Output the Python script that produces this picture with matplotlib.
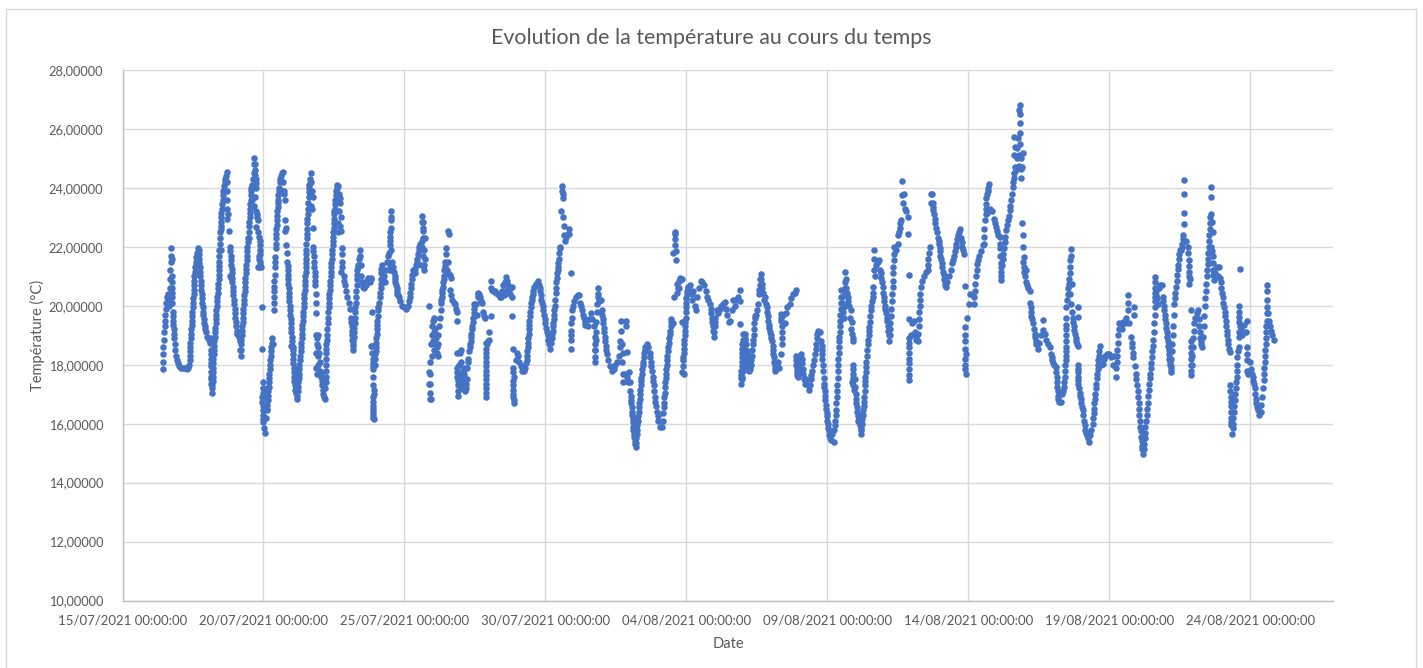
import datetime as dt
import matplotlib
matplotlib.use("Agg")
import matplotlib.pyplot as plt
import matplotlib.dates as mdates
from matplotlib.lines import Line2D

# readings: (days after 15/07/2021 00:00, temperature in deg C)
part_1 = [
(1.43,17.85),(1.43,18.1),(1.44,18.35),(1.45,18.6),(1.47,18.85),(1.48,19.1),(1.49,19.3),(1.50,19.5),(1.52,19.7),(1.54,19.9),
(1.56,20.1),(1.58,20.3),(1.60,20.4),(1.62,20.2),(1.64,20.0),(1.66,20.3),(1.67,20.6),(1.70,20.9),(1.70,21.2),(1.71,21.5),
(1.72,21.7),(1.73,21.95),(1.74,21.6),(1.74,21.0),(1.76,20.6),(1.76,20.3),(1.77,20.1),(1.78,19.8),(1.80,19.5),(1.81,19.2),
(1.83,18.9),(1.85,18.7),(1.87,18.5),(1.90,18.3),(1.93,18.15),(1.97,18.05),(2.02,17.95),(2.08,17.9),(2.14,17.9),(2.20,17.9),
(2.27,17.85),(2.33,17.9),(2.37,18.0),(2.39,18.3),(2.40,18.6),(2.42,18.9),(2.44,19.2),(2.46,19.5),(2.48,19.8),(2.50,20.1),
(2.52,20.4),(2.53,20.7),(2.55,21.0),(2.58,21.3),(2.60,21.5),(2.63,21.8),(2.67,21.95),(2.70,21.9),(2.72,21.6),(2.74,21.3),
(2.76,21.0),(2.78,20.7),(2.81,20.4),(2.83,20.1),(2.85,19.8),(2.88,19.55),(2.91,19.3),(2.95,19.1),(3.0,18.95),(3.05,18.85),
(3.10,18.75),(3.13,18.9),(3.15,18.5),(3.14,18.2),(3.14,17.95),(3.15,17.6),(3.15,17.35),(3.17,17.05),(3.19,17.3),(3.20,17.6),
(3.21,17.9),(3.22,18.2),(3.24,18.5),(3.26,18.8),(3.28,19.1),(3.30,19.4),(3.32,19.7),(3.34,20.0),(3.36,20.3),(3.39,20.6),
(3.41,20.9),(3.42,21.2),(3.44,21.5),(3.44,21.9),(3.47,22.3),(3.48,22.7),(3.50,23.0),(3.52,23.3),(3.55,23.6),(3.58,23.9),
(3.62,24.2),(3.66,24.4),(3.69,24.55),(3.71,24.2),(3.69,23.9),(3.72,23.6),(3.70,23.3),(3.74,23.1),(3.69,22.95),(3.48,22.6),
(3.77,22.55),(3.48,21.9),(3.81,22.0),(3.84,21.7),(3.86,21.4),(3.88,21.1),(3.90,20.8),(3.92,20.5),(3.95,20.2),(3.98,19.9),
(4.0,19.6),(4.03,19.3),(4.07,19.05),(4.12,18.95),(3.80,21.0),(3.84,20.95),(4.16,19.0),(4.17,18.8),(4.15,18.5),(4.19,18.3),
(4.21,18.7),(4.23,19.0),(4.25,19.3),(4.27,19.6),(4.29,19.9),(4.31,20.2),(4.33,20.5),(4.35,20.8),(4.37,21.1),(4.39,21.4),
(4.41,21.7),(4.43,22.0),(4.46,22.3),(4.48,22.3),(4.49,22.7),(4.51,23.0),(4.53,23.3),(4.54,23.6),(4.56,23.9),(4.58,24.1),
(4.60,23.6),(4.63,24.3),(4.68,24.5),(4.67,24.8),(4.68,25.0),(4.70,24.6),(4.72,24.3),(4.74,24.0),(4.70,23.7),(4.67,23.4),
(4.75,23.2),(4.78,23.0),(4.75,22.66),(4.86,22.2),(4.88,21.9),(4.85,21.6),(4.88,21.4),(4.92,21.3),(4.80,21.3),(4.83,21.7),
(4.83,21.3),(4.95,19.95),(4.95,18.55),(4.97,17.4),(4.97,17.2),(4.96,16.9),(4.97,16.6),(4.98,16.3),(5.0,16.05),(5.03,15.85),
(5.06,15.7),(5.13,17.2),(5.10,16.9),(5.14,16.45),
(2.38,18.15),(2.39,18.45),(2.41,18.75),(2.43,19.05),(2.45,19.35),(2.47,19.65),(2.49,19.95),(2.51,20.25),(2.525,20.55),(2.54,20.85),
(2.565,21.15),(2.59,21.4),(2.615,21.65),(2.71,21.75),(2.73,21.45),(2.75,21.15),(2.77,20.85),(2.795,20.55),(2.82,20.25),(2.84,19.95),
(2.865,19.7),(2.895,19.4),(2.93,19.2),(3.145,18.35),(3.14,18.05),(3.145,17.75),(3.15,17.5),(3.16,17.2),(3.195,17.45),(3.205,17.75),
(3.215,18.05),(3.23,18.35),(3.25,18.65),(3.27,18.95),(3.29,19.25),(3.31,19.55),(3.33,19.85),(3.35,20.15),(3.375,20.45),(3.40,20.75),
(3.415,21.05),(3.43,21.35),(3.44,21.7),(3.455,22.1),(3.475,22.5),(3.49,22.85),(3.51,23.15),(3.535,23.45),(3.565,23.75),(3.60,24.05),
(3.64,24.3),(3.825,21.85),(3.85,21.55),(3.87,21.25),(3.89,20.95),(3.91,20.65),(3.935,20.35),(3.965,20.05),(3.99,19.75),(4.015,19.45),
(4.05,19.15),(4.20,18.5),(4.22,18.85),(4.24,19.15),(4.26,19.45),(4.28,19.75),(4.30,20.05),(4.32,20.35),(4.34,20.65),(4.36,20.95),
(4.38,21.25),(4.40,21.55),(4.42,21.85),(4.445,22.15),(4.485,22.5),(4.50,22.85),(4.52,23.15),(4.535,23.45),(4.55,23.75),(4.57,24.0),
(4.69,24.8),(4.71,24.45),(4.73,24.15),(4.76,23.1),(4.80,22.9),(4.82,22.5),(4.84,22.35),(4.87,22.05),(4.865,21.75),(4.865,21.5),
(4.97,17.05),(4.965,16.75),(4.975,16.45),(4.99,16.15),(1.75,20.8),(1.755,20.45),(1.79,19.65),(1.805,19.35),(1.82,19.05),
]
part_2 = [
(5.10,16.2),(5.13,16.5),(5.15,16.8),(5.17,17.1),(5.19,17.4),(5.21,17.7),(5.23,18.0),(5.25,18.3),(5.28,18.6),(5.31,18.9),
(5.32,18.7),(5.37,19.85),(5.38,20.1),(5.37,20.5),(5.39,20.85),(5.41,21.3),(5.42,21.65),(5.44,21.95),(5.44,22.3),(5.46,22.6),
(5.47,22.9),(5.49,23.2),(5.51,23.5),(5.53,23.75),(5.56,24.0),(5.58,24.2),(5.62,24.4),(5.66,24.5),(5.70,24.55),(5.70,24.2),
(5.66,23.9),(5.71,23.8),(5.74,23.9),(5.76,23.6),(5.75,22.9),(5.78,22.55),(5.79,22.65),(5.81,22.05),(5.83,21.8),(5.85,21.5),
(5.86,21.2),(5.87,20.9),(5.89,20.6),(5.91,20.3),(5.93,20.0),(5.95,19.7),(5.97,19.4),(5.99,19.1),(6.0,18.8),(6.03,18.5),
(6.05,18.2),(6.07,17.9),(6.08,17.6),(6.11,17.3),(6.14,17.05),(6.18,16.85),(6.05,18.6),(5.97,18.65),(6.22,17.1),(6.24,17.4),
(6.26,17.7),(6.27,18.0),(6.30,18.3),(6.33,18.6),(6.35,18.9),(6.37,19.2),(6.39,19.5),(6.41,19.8),(6.43,20.1),(6.45,20.4),
(6.47,20.7),(6.49,21.0),(6.50,21.3),(6.51,21.6),(6.52,21.9),(6.53,22.3),(6.55,22.6),(6.56,22.95),(6.58,23.3),(6.60,23.7),
(6.62,24.0),(6.65,24.3),(6.67,24.5),(6.62,24.1),(6.64,23.8),(6.68,24.2),(6.71,23.9),(6.75,23.7),(6.70,23.4),(6.73,23.3),
(6.76,22.65),(6.76,22.0),(6.78,21.7),(6.80,21.3),(6.82,21.0),(6.84,20.7),(6.85,20.1),(6.85,19.75),(6.87,19.0),(6.90,18.7),
(6.90,18.9),(6.93,19.0),(6.95,18.6),(6.88,18.4),(6.93,18.3),(6.97,18.4),(6.88,17.9),(6.90,17.7),(6.93,18.0),(7.0,18.1),
(7.0,17.8),(7.05,17.6),(7.08,17.3),(7.12,17.0),(7.15,16.9),(7.18,16.85),(7.19,17.2),(7.21,17.6),(7.22,18.0),(7.22,18.4),
(7.23,18.7),(7.26,19.0),(7.28,19.4),(7.30,19.8),(7.32,20.1),(7.34,20.4),(7.36,20.7),(7.38,21.0),(7.40,21.3),(7.42,21.6),
(7.44,21.9),(7.46,22.2),(7.48,22.5),(7.49,22.8),(7.50,23.1),(7.53,23.3),(7.55,23.6),(7.58,23.9),(7.60,24.1),(7.65,24.05),
(7.68,23.8),(7.72,23.5),(7.68,23.2),(7.74,23.0),(7.72,22.7),(7.66,22.5),(7.64,22.8),(7.75,22.55),(7.78,21.95),(7.78,21.5),
(7.76,21.15),(7.84,21.0),(7.88,20.7),(7.92,20.5),(7.97,20.3),(8.02,20.1),(8.06,19.9),(8.10,19.6),(8.13,19.3),(8.15,19.0),
(8.16,18.7),(8.17,18.5),(8.19,18.8),(8.21,19.1),(8.23,19.4),(8.25,19.8),(8.27,20.1),(8.29,20.5),(8.31,20.9),(8.33,21.2),
(8.36,21.4),(8.38,21.6),(8.41,21.9),(8.44,21.7),(8.46,21.4),(8.45,21.0),(8.48,20.8),(8.52,20.65),(8.55,20.6),(8.59,20.8),
(8.63,20.7),(8.67,20.85),(8.72,20.95),(8.77,20.8),(8.80,20.9),(8.82,20.95),(8.85,19.8),(8.82,18.65),(8.85,18.65),(8.88,18.2),
(8.90,17.95),(8.87,17.85),(8.90,17.3),(8.93,17.0),(8.87,16.9),(8.88,16.6),(8.89,16.4),(8.90,16.2),(8.92,16.15),(8.95,18.0),
(8.97,18.35),(8.99,18.6),(9.0,18.9),(9.02,19.2),(9.04,19.5),(9.06,19.85),(9.13,20.3),(9.15,20.6),(9.16,20.9),(9.17,21.1),
(9.19,21.4),(9.20,21.2),(9.23,20.9),(9.25,21.2),(9.28,21.0),(9.30,20.8),(9.33,21.2),(9.38,21.5),(9.42,21.7),(9.45,21.8),
(9.47,21.4),(9.50,21.2),(9.53,21.9),(9.50,22.2),(9.50,22.5),(9.52,22.65),(9.52,23.2),(9.52,23.0),(9.49,22.05),(9.55,21.5),
(9.60,21.3),(9.65,21.0),(9.68,20.8),(9.72,20.6),(9.75,20.4),(9.80,20.3),(9.85,20.15),(9.90,20.0),(9.98,19.95),(10.06,19.9),
(10.14,20.0),(10.18,20.3),(10.22,20.6),(10.26,20.9),(10.30,21.2),(10.36,21.1),(10.40,21.4),(10.45,21.6),(10.50,21.9),(10.55,22.1),
(10.62,22.0),(10.66,21.7),(10.60,21.4),(10.70,21.9),(10.72,21.6),(10.68,21.4),(10.70,21.2),(10.61,23.05),(10.67,22.65),(10.73,22.3),
(10.62,22.85),(10.66,22.85),(10.64,22.55),
(5.14,16.65),(5.16,16.95),(5.18,17.25),(5.20,17.55),(5.22,17.85),(5.24,18.15),(5.265,18.45),(5.295,18.75),(5.375,20.3),(5.38,20.65),
(5.40,21.05),(5.415,21.5),(5.44,22.1),(5.45,22.45),(5.465,22.75),(5.48,23.05),(5.50,23.35),(5.52,23.6),(5.545,23.9),(5.60,24.3),
(5.855,21.35),(5.865,21.05),(5.88,20.75),(5.90,20.45),(5.92,20.15),(5.94,19.85),(5.96,19.55),(5.98,19.25),(5.995,18.95),(6.015,18.65),
(6.04,18.35),(6.06,18.05),(6.075,17.75),(6.095,17.45),(6.125,17.15),(6.20,16.95),(6.23,17.25),(6.25,17.55),(6.265,17.85),(6.285,18.15),
(6.315,18.45),(6.34,18.75),(6.36,19.05),(6.38,19.35),(6.40,19.65),(6.42,19.95),(6.44,20.25),(6.46,20.55),(6.48,20.85),(6.495,21.15),
(6.505,21.45),(6.515,21.75),(6.525,22.1),(6.54,22.45),(6.555,22.8),(6.57,23.1),(6.59,23.5),(6.61,23.85),(6.635,24.15),(6.77,21.85),
(6.79,21.5),(6.81,21.15),(6.83,20.85),(6.845,20.4),(7.10,17.15),(7.065,17.45),(7.025,17.7),(7.20,17.4),(7.215,17.8),(7.22,18.2),
(7.225,18.55),(7.245,18.85),(7.27,19.2),(7.29,19.6),(7.31,19.95),(7.33,20.25),(7.35,20.55),(7.37,20.85),(7.39,21.15),(7.41,21.45),
(7.43,21.75),(7.45,22.05),(7.47,22.35),(7.485,22.65),(7.495,22.95),(7.515,23.2),(7.54,23.45),(7.565,23.75),(7.59,24.0),(7.70,23.65),
(7.78,21.75),(7.77,21.3),(7.86,20.85),(8.115,19.45),(8.14,19.15),(8.155,18.85),(8.18,18.65),(8.20,18.95),(8.22,19.25),(8.24,19.6),
(8.26,19.95),(8.28,20.3),(8.30,20.7),(8.32,21.05),(8.345,21.3),(8.85,18.4),(8.89,18.05),(8.88,17.6),(8.91,17.15),(8.875,16.75),
(8.885,16.5),(8.895,16.3),(8.96,18.2),(8.98,18.45),(8.995,18.75),(9.01,19.05),(9.03,19.35),(9.05,19.65),(9.07,19.95),(9.10,20.1),
(9.14,20.45),(9.155,20.75),(9.18,21.25),(9.51,22.9),(9.50,22.35),(10.16,20.15),(10.20,20.45),(10.24,20.75),(10.28,21.05),(10.33,21.15),
(10.38,21.25),(10.43,21.5),(10.48,21.75),(10.525,22.0),(10.65,22.3),(10.63,22.2),(9.62,21.15),(9.66,20.9),(9.70,20.7),(9.735,20.5),(9.78,20.35),
]
part_3 = [
(10.87,20.0),(10.89,18.1),(10.87,17.75),(10.90,17.7),(10.87,17.35),(10.90,17.35),(10.91,17.05),(10.90,16.85),(10.93,16.85),
(10.95,18.7),(10.97,18.3),(10.97,19.0),(10.99,19.3),(11.0,19.5),(11.03,19.6),(11.06,19.55),(11.05,19.1),(11.02,18.8),(11.05,18.5),
(11.08,18.7),(11.10,19.2),(11.12,18.9),(11.14,18.6),(11.16,18.4),(11.18,18.3),(11.20,18.7),(11.18,19.0),(11.22,19.3),(11.25,19.6),
(11.28,19.85),(11.30,20.1),(11.32,20.3),(11.34,20.55),(11.37,20.8),(11.40,21.0),(11.41,21.2),(11.45,21.5),(11.46,21.75),(11.47,21.95),
(11.56,22.55),(11.57,22.45),(11.53,21.5),(11.52,21.2),(11.55,21.1),(11.60,21.05),(11.65,20.95),(11.63,20.55),(11.66,20.35),(11.70,20.2),
(11.74,20.1),(11.78,20.05),(11.82,19.9),(11.86,19.8),(11.88,19.5),(11.88,18.4),(11.85,17.9),(11.88,17.6),(11.90,17.3),(11.91,16.95),
(11.92,17.7),(11.95,18.0),(11.97,18.4),(12.0,18.5),(12.02,18.1),(12.0,17.7),(11.98,17.4),(12.03,17.5),(12.06,17.8),(12.05,17.2),
(12.09,17.4),(12.10,17.9),(12.13,17.5),(12.16,17.1),(12.18,17.2),(12.20,17.5),(12.20,17.9),(12.24,18.1),(12.27,18.2),(12.30,18.45),
(12.33,18.7),(12.36,18.95),(12.39,19.2),(12.42,19.45),(12.45,19.75),(12.47,20.05),(12.52,20.05),(12.56,19.7),(12.59,20.3),(12.62,20.45),
(12.67,20.3),(12.70,20.15),(12.74,20.1),(12.78,19.8),(12.82,19.65),(12.84,19.6),(13.07,19.65),(12.89,18.75),(12.90,18.4),(12.88,18.1),
(12.89,17.8),(12.90,17.5),(12.88,17.2),(12.90,16.9),(12.93,18.7),(12.96,18.8),(13.0,19.1),(13.0,18.85),(13.08,20.85),(13.06,20.6),
(13.10,20.55),(13.15,20.5),(13.20,20.5),(13.25,20.45),(13.30,20.4),(13.36,20.35),(13.40,20.3),(13.44,20.3),(13.46,20.5),(13.50,20.7),
(13.55,20.8),(13.60,20.97),(13.63,20.85),(13.67,20.7),(13.62,20.55),(13.58,20.4),(13.54,20.35),(13.70,20.55),(13.75,20.4),(13.80,20.3),
(13.83,20.65),(13.82,19.65),(13.85,18.55),(13.85,17.9),(13.87,17.6),(13.86,17.3),(13.86,17.0),(13.87,16.8),(13.87,16.7),(13.95,18.15),
(14.0,18.4),(14.03,18.3),(14.07,18.1),(14.12,17.95),(14.18,17.8),(14.23,17.8),(14.28,17.9),(14.32,18.05),(14.35,18.3),(14.37,18.6),
(14.39,18.9),(14.41,19.2),(14.43,19.5),(14.46,19.8),(14.50,20.1),(14.53,20.3),(14.56,20.5),(14.60,20.65),(14.66,20.75),(14.73,20.85),
(14.78,20.7),(14.82,20.5),(14.85,20.2),(14.90,20.0),(14.95,19.7),(15.0,19.4),(15.05,19.1),(15.1,18.85),(15.16,18.55),(15.22,18.9),
(15.25,19.15),(15.28,19.4),(15.30,19.7),(15.33,20.0),(15.36,20.45),(15.39,20.8),(15.42,21.1),(15.45,21.3),(15.47,21.6),(15.50,21.95),
(15.52,22.0),(15.54,23.2),(15.60,24.08),(15.59,23.9),(15.62,23.8),(15.62,23.65),(15.63,23.0),(15.66,22.7),(15.66,22.4),(15.68,22.2),
(15.72,22.35),(15.85,22.45),(15.85,22.6),(15.80,22.45),(15.90,21.1),(15.90,18.55),(15.91,18.85),(15.92,19.15),(15.92,19.4),(15.95,19.85),
(15.98,20.0),(16.02,20.15),(16.08,20.3),(16.14,20.35),(16.18,20.35),(16.24,20.1),(16.30,19.85),(16.36,19.6),(16.42,19.35),(16.50,19.3),
(16.55,19.55),(16.60,19.75),(16.66,19.55),(16.72,19.3),(16.75,18.95),(16.74,18.7),(16.74,18.25),(16.76,18.5),(16.80,19.1),(16.83,19.8),
(16.85,20.3),(16.85,20.6),(16.87,20.4),(16.90,20.15),(16.97,20.2),(17.0,19.85),(17.03,19.55),(17.07,19.25),(17.10,18.95),(17.14,18.65),
(17.18,18.35),(17.22,18.15),(17.28,17.95),(17.36,17.8),(17.42,17.85),(17.48,18.0),(17.54,18.1),(17.60,18.3),(17.63,18.6),(17.66,18.8),
(17.68,19.15),(17.69,19.5),(17.71,18.7),(17.74,18.4),(17.72,18.1),(17.85,19.5),(17.87,19.3),(17.90,18.43),(17.74,17.7),(17.76,17.4),
(17.82,17.7),(17.88,17.6),(17.92,17.4),(17.97,17.75),(18.0,17.4),(18.01,17.1),(18.04,16.8),(18.06,16.55),(18.08,16.3),(18.10,16.05),
(18.12,15.8),(18.15,15.55),(18.18,15.3),(18.20,15.2),(18.22,15.5),(18.24,15.8),(18.27,16.1),(18.30,16.4),(18.33,16.7),(18.36,17.0),
(18.38,17.3),(18.40,17.55),(18.43,17.85),(18.46,18.1),(18.50,18.4),(18.54,18.6),(18.60,18.7),(18.65,18.6),(18.70,18.4),(18.74,18.1),
(18.78,17.8),(18.82,17.45),(18.85,17.1),(18.90,16.75),(18.95,16.4),(19.0,16.1),(19.05,15.9),(19.12,15.9),(19.18,16.1),(19.16,16.35),
(19.20,16.55),(19.22,16.9),(19.24,17.25),(19.26,17.55),(19.28,17.85),(19.31,18.15),(19.33,18.45),(19.37,18.75),(19.41,19.05),(19.44,19.3),
(19.47,19.55),(19.52,19.4),(19.55,20.3),(19.53,21.8),(19.58,22.45),(19.59,22.25),(19.60,22.5),(19.61,22.05),(19.62,21.85),(19.64,21.55),
(19.67,20.75),(19.66,20.45),(19.70,20.6),(19.72,20.85),(19.75,20.6),(19.78,20.95),(19.85,20.9),(19.85,19.45),(19.90,19.45),(19.86,17.75),
(19.90,17.7),(19.87,18.15),(19.90,18.4),(19.92,18.7),(19.94,19.0),(19.96,19.3),(19.97,19.6),(19.99,19.95),(20.0,20.25),(20.03,20.5),
(20.07,20.65),(20.12,20.7),(20.18,20.4),(20.20,20.2),(20.25,20.5),(20.30,20.0),(20.33,19.85),(20.38,20.3),(20.43,20.6),(20.50,20.85),
(11.43,21.35),(11.31,20.2),(11.335,20.45),(11.355,20.65),(11.385,20.9),(11.87,17.75),(11.89,17.45),(11.905,17.1),(12.11,17.7),(12.15,17.3),
(12.19,17.35),(12.32,18.6),(12.345,18.8),(12.375,19.05),(12.405,19.3),(12.435,19.6),(12.46,19.9),(12.60,20.4),(12.64,20.4),(12.89,18.55),
(12.89,18.25),(12.885,17.95),(12.895,17.65),(12.89,17.35),(12.89,17.05),(13.855,17.75),(13.865,17.45),(13.865,17.15),(13.865,16.9),(14.335,18.15),
(14.36,18.45),(14.38,18.75),(14.40,19.05),(14.42,19.35),(14.445,19.65),(14.48,19.95),(14.515,20.2),(14.545,20.4),(14.80,20.6),(14.835,20.35),
(14.875,20.1),(14.925,19.85),(14.975,19.55),(15.025,19.25),(15.075,19.0),(15.13,18.7),(15.20,18.75),(15.24,19.05),(15.265,19.3),(15.29,19.55),
(15.315,19.85),(15.345,20.2),(15.375,20.6),(15.405,20.95),(15.435,21.2),(15.46,21.45),(15.485,21.8),(15.92,19.0),(15.935,19.6),(16.27,20.0),
(16.33,19.7),(16.39,19.45),(16.745,18.5),(16.755,18.1),(16.78,18.85),(16.81,19.45),(16.84,20.05),(17.015,19.7),(17.05,19.4),(17.085,19.1),
(17.12,18.8),(17.16,18.5),(18.025,16.95),(18.05,16.7),(18.07,16.4),(18.09,16.15),(18.11,15.9),(18.135,15.65),(18.165,15.4),(18.21,15.35),
(18.23,15.65),(18.255,15.95),(18.285,16.25),(18.315,16.55),(18.345,16.85),(18.37,17.15),(18.39,17.45),(18.415,17.7),(18.445,18.0),(18.48,18.25),
(18.52,18.5),(18.72,18.25),(18.76,17.95),(18.80,17.6),(18.835,17.3),(18.875,16.9),(18.925,16.6),(18.975,16.25),(19.21,16.7),(19.23,17.05),
(19.25,17.4),(19.27,17.7),(19.295,18.0),(19.32,18.3),(19.35,18.6),(19.39,18.9),(19.425,19.15),(19.455,19.45),(19.885,17.95),(19.89,18.25),
(19.91,18.55),(19.93,18.85),(19.95,19.15),(19.965,19.45),(19.98,19.8),(19.995,20.1),(20.015,20.4),(20.05,20.6),
]
part_4 = [
(20.56,20.8),(20.62,20.7),(20.68,20.5),(20.73,20.3),(20.78,20.2),(20.84,20.05),(20.88,19.75),(20.91,19.45),(20.94,19.15),(20.97,18.95),
(21.0,19.3),(21.03,19.6),(21.07,19.85),(21.12,19.75),(21.18,19.9),(21.24,20.0),(21.30,20.05),(21.36,20.12),(21.40,19.9),(21.45,19.7),
(21.50,19.45),(21.55,19.5),(21.60,19.85),(21.65,20.18),(21.71,20.0),(21.77,20.2),(21.83,20.3),(21.89,20.52),(21.91,20.15),(21.91,19.37),
(22.0,19.05),(21.98,18.7),(21.97,18.4),(21.96,18.1),(21.95,17.8),(21.94,17.55),(21.95,17.36),(21.98,17.6),(22.02,17.95),(22.05,18.3),
(22.06,18.7),(22.06,19.05),(22.10,18.7),(22.14,18.35),(22.18,18.05),(22.22,17.8),(22.26,17.85),(22.29,18.15),(22.33,18.5),(22.36,18.85),
(22.40,19.2),(22.42,19.6),(22.46,19.7),(22.50,19.85),(22.54,20.07),(22.57,20.4),(22.60,20.7),(22.65,21.08),(22.67,20.75),(22.70,20.45),
(22.74,20.2),(22.80,20.3),(22.83,20.07),(22.86,19.8),(22.89,19.5),(22.94,19.25),(22.99,19.0),(23.04,18.8),(23.07,18.5),(23.10,18.25),
(23.13,18.0),(23.15,17.8),(23.20,17.95),(23.26,18.1),(23.30,17.9),(23.36,18.37),(23.38,18.7),(23.40,19.1),(23.36,19.5),(23.36,19.73),
(23.42,19.7),(23.48,19.4),(23.52,19.75),(23.58,19.95),(23.66,20.07),(23.72,20.25),(23.79,20.4),(23.86,20.42),(23.89,20.52),(23.89,18.3),
(23.90,18.0),(23.92,17.75),(23.95,17.58),(23.98,17.9),(24.02,18.2),(24.07,18.37),(24.10,18.05),(24.14,17.7),(24.19,17.36),(24.25,17.5),
(24.30,17.3),(24.36,17.13),(24.41,17.5),(24.46,17.8),(24.50,18.0),(24.54,18.15),(24.58,18.55),(24.62,18.9),(24.66,19.16),(24.72,19.1),
(24.78,18.82),(24.80,18.5),(24.82,18.2),(24.86,17.8),(24.87,17.36),(24.90,17.1),(24.93,16.8),(24.96,16.5),(24.98,16.25),(25.01,16.0),
(25.05,15.75),(25.09,15.5),(25.11,15.43),(25.16,15.65),(25.22,15.38),(25.25,15.8),(25.28,16.1),(25.31,16.45),(25.33,16.9),(25.35,17.3),
(25.37,17.8),(25.39,18.2),(25.41,18.6),(25.42,18.94),(25.44,19.3),(25.46,19.7),(25.48,20.1),(25.48,20.52),(25.52,20.1),(25.56,19.8),
(25.60,19.6),(25.62,20.0),(25.61,20.4),(25.63,20.8),(25.63,21.14),(25.67,20.6),(25.72,20.3),(25.76,20.0),(25.84,19.84),(25.80,19.6),
(25.84,19.2),(25.88,19.05),(25.90,18.82),(25.90,17.98),(25.91,17.7),(25.88,17.4),(25.93,17.13),(25.97,17.5),(26.0,17.0),(26.03,16.7),
(26.06,16.4),(26.09,16.1),(26.13,16.3),(26.16,15.95),(26.19,15.66),(26.22,16.0),(26.25,16.3),(26.28,16.6),(26.31,16.9),(26.33,17.3),
(26.35,17.6),(26.37,17.92),(26.40,18.3),(26.43,18.7),(26.46,19.0),(26.49,19.28),(26.52,19.65),(26.56,20.0),(26.60,20.3),(26.60,20.63),
(26.64,21.88),(26.64,21.6),(26.66,21.2),(26.70,21.0),(26.74,21.4),(26.79,21.5),(26.84,21.54),(26.87,21.2),(26.90,20.95),(26.96,20.63),
(26.99,20.3),(27.03,20.0),(27.07,19.75),(27.13,19.5),(27.16,19.15),(27.19,18.82),(27.22,19.2),(27.25,19.65),(27.28,20.15),(27.31,20.63),
(27.33,21.1),(27.35,21.55),(27.37,21.99),(27.42,21.9),(27.49,22.1),(27.52,22.4),(27.56,22.65),(27.60,22.9),(27.64,24.25),(27.66,23.75),
(27.69,23.5),(27.72,23.8),(27.74,23.3),(27.77,23.2),(27.84,23.0),(27.87,22.42),(27.90,21.06),(27.90,19.56),(27.90,18.9),(27.91,18.6),
(27.89,18.2),(27.90,17.85),(27.90,17.47),(27.96,19.0),(28.0,19.4),(28.08,19.5),(28.11,19.1),(28.15,18.85),(28.20,18.82),(28.23,19.3),
(28.26,19.8),(28.28,20.2),(28.31,20.63),(28.36,20.85),(28.42,21.0),(28.48,21.15),(28.55,21.2),(28.58,21.6),(28.63,21.99),(28.66,23.8),
(28.68,23.5),(28.70,23.8),(28.73,23.5),(28.76,23.25),(28.79,23.12),(28.83,22.8),(28.87,22.5),(28.92,22.3),(28.96,22.1),(28.99,21.85),
(29.03,21.6),(29.08,21.31),(29.12,21.05),(29.16,20.8),(29.20,20.63),(29.25,20.8),(29.31,21.0),(29.38,21.2),(29.43,21.45),(29.49,21.7),
(29.55,21.99),(29.60,22.25),(29.66,22.5),(29.71,22.61),(29.74,22.3),(29.78,22.0),(29.85,21.76),(29.88,20.67),(29.88,19.28),(29.87,18.8),
(29.90,18.35),(29.88,18.0),(29.91,17.7),(29.94,19.6),(30.02,20.07),(30.07,20.4),(30.15,20.35),(30.20,20.07),(30.23,20.5),(30.27,21.0),
(30.32,21.42),(30.38,21.7),(30.45,21.85),(30.50,22.05),(30.55,22.1),(30.57,22.6),(30.61,23.12),(30.62,23.45),(30.66,23.8),(30.70,24.0),
(30.73,24.14),(30.67,23.15),(30.78,23.3),(30.85,23.23),(30.92,22.95),(30.99,22.67),(31.06,22.4),(31.11,22.33),(31.12,21.95),(31.14,21.45),
(31.15,21.15),(31.17,20.86),
(20.86,19.9),(20.895,19.6),(20.925,19.3),(20.985,19.1),(21.015,19.45),(21.99,18.85),(21.975,18.55),(21.965,18.25),(21.955,17.95),(21.945,17.65),
(21.965,17.5),(22.0,17.8),(22.035,18.1),(22.055,18.5),(22.06,18.85),(22.08,18.9),(22.12,18.5),(22.16,18.2),(22.20,17.9),(22.275,18.0),
(22.31,18.3),(22.345,18.7),(22.38,19.0),(22.41,19.4),(22.44,19.65),(22.585,20.55),(22.625,20.9),(22.66,20.9),(22.685,20.6),(22.85,19.95),
(22.875,19.65),(22.915,19.35),(22.965,19.1),(23.015,18.9),(23.055,18.65),(23.085,18.35),(23.115,18.1),(23.14,17.9),(23.385,18.9),(23.39,19.3),
(23.37,19.6),(23.90,18.15),(23.91,17.85),(23.935,17.65),(23.965,17.75),(24.0,18.05),(24.045,18.3),(24.085,18.2),(24.12,17.85),(24.165,17.5),
(24.385,17.3),(24.435,17.65),(24.56,18.35),(24.60,18.7),(24.64,19.05),(24.79,18.65),(24.81,18.35),(24.84,18.0),(24.865,17.55),(24.885,17.25),
(24.915,16.95),(24.945,16.65),(24.97,16.35),(24.995,16.1),(25.03,15.85),(25.07,15.6),(25.265,15.95),(25.295,16.3),(25.32,16.7),(25.34,17.1),
(25.36,17.55),(25.38,18.0),(25.40,18.4),(25.415,18.8),(25.43,19.1),(25.45,19.5),(25.47,19.9),(25.48,20.3),(25.50,20.3),(25.54,19.95),
(25.625,20.6),(25.65,20.9),(25.69,20.45),(25.74,20.15),(25.86,19.45),(25.89,18.9),(25.905,17.85),(25.895,17.55),(25.91,17.3),(25.985,17.25),
(26.015,16.85),(26.045,16.55),(26.075,16.25),(26.11,16.05),(26.175,15.8),(26.205,15.85),(26.235,16.15),(26.265,16.45),(26.295,16.75),(26.32,17.1),
(26.34,17.45),(26.36,17.75),(26.385,18.1),(26.415,18.5),(26.445,18.85),(26.475,19.15),(26.505,19.45),(26.54,19.85),(26.58,20.15),(26.60,20.45),
(26.885,21.1),(26.93,20.8),(26.975,20.45),(27.01,20.15),(27.05,19.9),(27.10,19.6),(27.145,19.3),(27.175,19.0),(27.205,19.0),(27.235,19.4),
(27.265,19.9),(27.295,20.4),(27.32,20.85),(27.34,21.3),(27.36,21.75),(27.535,22.5),(27.58,22.8),(27.905,18.75),(27.90,18.4),(27.895,18.05),
(27.90,17.65),(28.13,18.95),(28.215,19.05),(28.245,19.55),(28.27,20.0),(28.295,20.4),(28.565,21.4),(28.60,21.8),(28.75,23.35),(28.81,22.95),
(28.85,22.65),(28.94,22.2),(28.975,21.95),(29.01,21.7),(29.055,21.45),(29.10,21.15),(29.14,20.9),(29.18,20.7),(29.46,21.55),(29.52,21.85),
(29.575,22.1),(29.63,22.4),(29.76,22.15),(29.80,21.9),(29.885,19.0),(29.885,18.55),(29.89,18.2),(29.895,17.85),(30.215,20.3),(30.25,20.75),
(30.295,21.2),(30.35,21.55),(30.56,22.35),(30.59,22.9),(30.615,23.3),(30.64,23.65),(30.68,23.9),(30.96,22.8),(31.03,22.55),(31.115,22.1),
(31.13,21.7),(31.145,21.3),(31.16,21.0),
]
part_5 = [
(31.20,21.4),(31.23,21.77),(31.28,22.15),(31.34,22.56),(31.40,22.9),(31.46,23.24),(31.52,23.6),(31.58,24.03),(31.60,24.35),(31.64,24.7),
(31.62,25.1),(31.65,25.4),(31.62,25.73),(31.70,24.6),(31.72,25.0),(31.74,25.35),(31.75,25.7),(31.78,24.75),(31.80,25.1),(31.83,25.5),
(31.82,25.85),(31.84,26.2),(31.82,26.5),(31.81,26.65),(31.82,26.8),(31.86,24.65),(31.88,25.0),(31.90,24.7),(31.92,25.2),(31.87,24.35),
(31.90,22.82),(31.93,22.4),(31.93,22.0),(31.96,21.65),(31.97,21.3),(31.99,21.0),(32.03,21.2),(32.06,20.8),(32.10,20.6),(32.17,20.5),
(32.19,20.1),(32.22,19.8),(32.25,19.55),(32.29,19.4),(32.33,19.2),(32.36,18.95),(32.40,18.7),(32.46,18.55),(32.52,18.75),(32.58,19.0),
(32.64,19.17),(32.64,19.53),(32.70,19.05),(32.76,18.85),(32.82,18.7),(32.88,18.6),(32.93,18.35),(32.98,18.15),(33.04,18.0),(33.11,17.92),
(33.13,17.6),(33.15,17.25),(33.17,16.95),(33.20,16.75),(33.27,16.75),(33.33,17.0),(33.38,17.25),(33.41,17.6),(33.44,18.0),(33.46,18.3),
(33.47,18.6),(33.47,19.0),(33.46,19.35),(33.47,19.96),(33.52,20.4),(33.56,20.75),(33.59,21.1),(33.62,21.54),(33.64,21.92),(33.66,20.75),
(33.62,20.4),(33.64,20.07),(33.68,19.8),(33.72,19.45),(33.76,19.17),(33.80,18.9),(33.85,18.7),(33.90,18.62),(33.88,19.96),(33.90,19.62),
(33.90,17.98),(33.88,17.75),(33.88,17.47),(33.92,17.2),(33.96,16.95),(34.0,16.7),(34.06,16.45),(34.10,16.1),(34.14,15.8),(34.20,15.6),
(34.27,15.38),(34.31,15.6),(34.36,15.8),(34.41,16.0),(34.44,16.35),(34.47,16.7),(34.50,17.0),(34.53,17.36),(34.56,17.7),(34.60,18.0),
(34.62,18.3),(34.65,18.62),(34.66,18.25),(34.70,18.0),(34.76,18.04),(34.80,18.2),(34.86,18.3),(34.93,18.35),(35.0,18.38),(35.06,18.25),
(35.12,18.0),(35.18,18.3),(35.22,17.9),(35.24,17.58),(35.26,18.1),(35.28,18.5),(35.32,19.0),(35.35,19.4),(35.40,19.35),(35.45,19.2),
(35.50,19.45),(35.55,19.4),(35.60,19.6),(35.65,19.85),(35.65,20.1),(35.65,20.36),(35.70,19.4),(35.77,18.94),(35.80,18.6),(35.84,18.25),
(35.88,19.96),(35.88,19.68),(35.90,17.95),(35.94,17.7),(35.98,17.3),(36.02,16.9),(36.05,16.5),(36.08,16.1),(36.11,15.75),(36.14,15.4),
(36.17,15.15),(36.20,14.98),(36.23,15.3),(36.26,15.7),(36.30,16.1),(36.34,16.5),(36.38,16.95),(36.42,17.36),(36.45,17.7),(36.48,18.05),
(36.52,18.45),(36.55,18.85),(36.59,19.4),(36.62,19.95),(36.62,20.3),(36.60,20.6),(36.62,20.98),(36.65,20.5),(36.68,20.25),(36.71,20.07),
(36.75,20.6),(36.80,20.7),(36.86,20.7),(36.89,20.3),(36.92,20.0),(36.96,19.7),(37.0,19.4),(37.03,19.1),(37.07,18.8),(37.10,18.5),
(37.13,18.2),(37.16,18.0),(37.18,17.75),(37.20,18.2),(37.23,18.7),(37.26,19.3),(37.30,20.07),(37.34,20.45),(37.38,20.85),(37.42,21.25),
(37.46,21.6),(37.50,21.9),(37.54,21.88),(37.58,22.1),(37.62,22.4),(37.63,22.79),(37.63,23.16),(37.63,23.8),(37.63,24.26),(37.70,22.2),
(37.77,22.0),(37.80,21.8),(37.83,21.54),(37.83,21.15),(37.85,20.9),(37.83,20.75),(37.89,19.85),(37.88,18.8),(37.90,18.4),(37.89,18.0),
(37.91,17.64),(37.94,18.3),(37.97,18.9),(38.01,19.4),(38.05,19.6),(38.10,19.75),(38.15,19.85),(38.18,19.3),(38.22,18.9),(38.26,18.7),
(38.30,18.6),(38.34,19.3),(38.38,20.0),(38.42,20.5),(38.45,21.0),(38.48,21.43),(38.51,21.8),(38.54,22.2),(38.56,22.6),(38.58,23.0),
(38.60,23.13),(38.60,23.7),(38.60,24.03),(38.63,22.85),(38.66,22.5),(38.62,22.0),(38.66,21.7),(38.68,21.2),(38.71,20.86),(38.76,21.1),
(38.80,21.3),(38.85,21.0),(38.89,21.32),(38.93,20.95),(38.97,20.6),(39.02,20.3),(39.07,19.96),(39.10,19.65),(39.14,19.3),(39.18,19.0),
(39.22,18.7),(39.27,18.43),(39.28,17.3),(39.30,16.9),(39.32,16.6),(39.31,16.2),(39.33,15.95),(39.34,15.66),(39.37,15.85),(39.40,16.2),
(39.43,16.6),(39.46,17.0),(39.50,17.4),(39.53,17.8),(39.54,18.26),(39.58,18.6),(39.60,18.94),(39.62,19.3),(39.60,19.62),(39.60,20.0),
(39.63,21.26),(39.66,19.2),(39.72,19.0),(39.78,19.35),(39.84,19.1),(39.89,19.5),(39.89,18.6),(39.89,18.15),(39.88,17.8),(39.92,17.7),
(39.98,18.1),(40.03,17.85),(40.08,17.6),(40.13,17.36),(40.17,17.0),(40.21,16.7),(40.26,16.45),(40.31,16.28),(40.36,16.4),(40.42,16.9),
(40.48,17.47),(40.50,17.9),(40.52,18.3),(40.54,18.7),(40.56,19.1),(40.58,19.5),(40.60,19.96),(40.60,20.7),(40.60,20.5),(40.62,19.75),
(40.66,19.5),(40.70,19.3),(40.74,19.15),(40.78,19.0),(40.84,18.83),
(31.215,21.6),(31.255,21.95),(31.31,22.35),(31.37,22.75),(31.43,23.05),(31.49,23.4),(31.55,23.8),(31.59,24.2),(31.62,24.5),(31.95,21.5),
(31.98,21.15),(32.08,20.7),(32.205,19.95),(32.235,19.65),(32.345,19.05),(32.38,18.8),(32.955,18.25),(33.01,18.05),(33.12,17.75),(33.14,17.4),
(33.16,17.1),(33.185,16.85),(33.355,17.1),(33.395,17.4),(33.425,17.8),(33.45,18.15),(33.465,18.45),(33.47,18.8),(33.465,19.2),(33.46,19.6),
(33.49,20.2),(33.54,20.6),(33.575,20.9),(33.605,21.3),(33.63,21.7),(33.70,19.6),(33.74,19.3),(33.78,19.05),(33.825,18.8),(33.885,17.85),
(33.885,17.6),(33.90,17.35),(33.94,17.05),(33.98,16.85),(34.03,16.55),(34.08,16.3),(34.12,15.95),(34.17,15.7),(34.235,15.5),(34.43,16.2),
(34.455,16.5),(34.485,16.85),(34.515,17.2),(34.545,17.55),(34.58,17.85),(34.61,18.15),(34.635,18.45),(35.27,18.3),(35.30,18.75),(35.335,19.2),
(35.79,18.75),(35.82,18.4),(35.96,17.5),(36.0,17.1),(36.035,16.7),(36.065,16.3),(36.095,15.9),(36.125,15.55),(36.155,15.25),(36.215,15.15),
(36.245,15.5),(36.28,15.9),(36.32,16.3),(36.36,16.7),(36.40,17.15),(36.435,17.55),(36.465,17.9),(36.50,18.25),(36.535,18.65),(36.57,19.1),
(36.605,19.7),(36.61,20.15),(36.61,20.45),(36.615,20.8),(36.665,20.35),(36.905,20.15),(36.94,19.85),(36.98,19.55),(37.015,19.25),(37.05,18.95),
(37.085,18.65),(37.115,18.35),(37.145,18.1),(37.17,17.85),(37.19,17.95),(37.215,18.45),(37.245,19.0),(37.28,19.7),(37.32,20.25),(37.36,20.65),
(37.40,21.05),(37.44,21.4),(37.48,21.75),(37.56,22.0),(37.60,22.25),(37.825,21.35),(37.84,21.0),(37.885,18.6),(37.895,18.2),(37.90,17.8),
(37.925,18.0),(37.955,18.6),(37.99,19.15),(38.165,19.55),(38.20,19.1),(38.24,18.8),(38.32,18.95),(38.36,19.65),(38.40,20.25),(38.435,20.75),
(38.465,21.2),(38.495,21.6),(38.525,22.0),(38.55,22.4),(38.57,22.8),(38.645,21.85),(38.67,21.45),(38.69,21.05),(38.95,20.8),(38.995,20.45),
(39.045,20.1),(39.085,19.8),(39.12,19.5),(39.16,19.15),(39.20,18.85),(39.245,18.55),(39.29,17.1),(39.31,16.75),(39.315,16.4),(39.32,16.05),
(39.385,16.0),(39.415,16.4),(39.445,16.8),(39.48,17.2),(39.515,17.6),(39.535,18.0),(39.56,18.45),(39.61,19.1),(39.61,19.45),(39.60,19.8),
(39.89,18.35),(40.06,17.7),(40.105,17.45),(40.15,17.2),(40.19,16.85),(40.235,16.55),(40.39,16.65),(40.45,17.2),(40.49,17.7),(40.51,18.1),
(40.53,18.5),(40.55,18.9),(40.57,19.3),(40.59,19.75),(40.60,20.2),
]

tick_days = [0, 5, 10, 15, 20, 25, 30, 35, 40]
y_ticks = [10, 12, 14, 16, 18, 20, 22, 24, 26, 28]
start = dt.datetime(2021, 7, 15)

readings = part_1 + part_2 + part_3 + part_4 + part_5
dates = [start + dt.timedelta(days=d) for d, t in readings]
temps = [t for d, t in readings]

W, H = 1423, 668
plt.rcParams['font.family'] = ['Lato', 'DejaVu Sans']
text_col = '#595959'

fig = plt.figure(figsize=(W / 100, H / 100), dpi=100)
ax = fig.add_axes([122.5 / W, 1 - 600.5 / H, (1333 - 122.5) / W, (600.5 - 70) / H])

ax.scatter(dates, temps, s=22, color='#4472C4', linewidths=0, zorder=3)

ax.set_xlim(start, start + dt.timedelta(days=42.93))
ax.set_ylim(10, 28)
ax.set_xticks([start + dt.timedelta(days=d) for d in tick_days])
ax.xaxis.set_major_formatter(mdates.DateFormatter('%d/%m/%Y %H:%M:%S'))
ax.set_yticks(y_ticks)
ax.set_yticklabels([f'{v:.5f}'.replace('.', ',') for v in y_ticks])
ax.tick_params(length=0, labelcolor=text_col)
ax.tick_params(axis='x', pad=10, labelsize=9.5)
ax.tick_params(axis='y', pad=14, labelsize=9.2)
ax.grid(True, color='#D9D9D9', lw=1)
ax.set_axisbelow(True)
for side in ['top', 'right']:
    ax.spines[side].set_visible(False)
for side in ['left', 'bottom']:
    ax.spines[side].set_color('#BFBFBF')
    ax.spines[side].set_linewidth(1)

fig.text(711 / W, 1 - 38 / H, 'Evolution de la température au cours du temps',
         ha='center', va='center', fontsize=15.4, color=text_col)
fig.text(728 / W, 1 - 644.5 / H, 'Date', ha='center', va='center', fontsize=10.5, color=text_col)
fig.text(37.5 / W, 1 - 335 / H, 'Température (°C)', ha='center', va='center',
         rotation=90, fontsize=10.5, color=text_col)

# chart frame, its bottom edge falls outside the picture
for xs, ys in [((5.5, 5.5), (668, 9)), ((5.5, 1416), (9, 9)), ((1416, 1416), (9, 668))]:
    fig.add_artist(Line2D([x / W for x in xs], [1 - y / H for y in ys], color='#D9D9D9', lw=1))

fig.savefig('out.png', dpi=100)
